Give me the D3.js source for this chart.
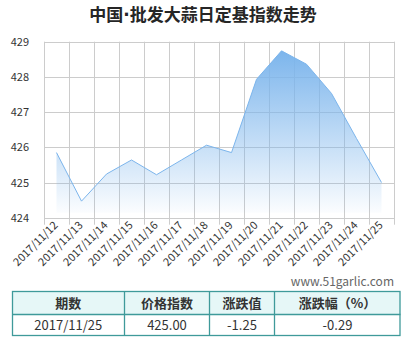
<!DOCTYPE html>
<html><head><meta charset="utf-8">
<script src="https://cdn.jsdelivr.net/npm/d3@7"></script>
<style>
html,body{margin:0;padding:0;background:#fff;}
svg{display:block;font-family:"Noto Sans CJK SC","Noto Sans",sans-serif;}
</style></head>
<body>
<svg id="c" width="414" height="338"></svg>
<script>
const titleParts = ["中国", "·", "批发大蒜日定基指数走势"];
const dates = ["2017/11/12","2017/11/13","2017/11/14","2017/11/15","2017/11/16","2017/11/17","2017/11/18","2017/11/19","2017/11/20","2017/11/21","2017/11/22","2017/11/23","2017/11/24","2017/11/25"];
const values = [425.85,424.47,425.24,425.64,425.22,425.64,426.06,425.85,427.93,428.74,428.36,427.53,426.25,425.00];
const yTicks = [424,425,426,427,428,429];
const tableHeader = ["期数","价格指数","涨跌值","涨跌幅（%）"];
const tableRow = ["2017/11/25","425.00","-1.25","-0.29"];
const watermark = "www.51garlic.com";

const svg = d3.select("#c");
const L=44, R=394, T=41.7, B=217.7;
const x = d3.scaleBand().domain(dates).range([L,R]);
const y = d3.scaleLinear().domain([424,429]).range([B,T]);
const cx = d => x(d)+x.bandwidth()/2;

const tt = svg.append("text").attr("x",203).attr("y",21).attr("text-anchor","middle")
  .attr("font-size",17).attr("font-weight","bold").attr("fill","#262626");
tt.append("tspan").text(titleParts[0]);
tt.append("tspan").attr("font-family","DejaVu Sans").text(titleParts[1]);
tt.append("tspan").text(titleParts[2]);

const defs = svg.append("defs");
const g = defs.append("linearGradient").attr("id","ag").attr("x1",0).attr("y1",0).attr("x2",0).attr("y2",1);
g.append("stop").attr("offset","0%").attr("stop-color","#7cb5ec").attr("stop-opacity",1);
g.append("stop").attr("offset","100%").attr("stop-color","#7cb5ec").attr("stop-opacity",0.03);

// grid
const grid = svg.append("g");
yTicks.forEach(t=>{
  grid.append("line").attr("x1",L).attr("x2",R).attr("y1",Math.round(y(t))+0.5).attr("y2",Math.round(y(t))+0.5)
    .attr("stroke","#cccccc").attr("stroke-width",1);
});
const bounds = dates.map(d=>x(d)).concat([R]);
bounds.forEach(b=>{
  grid.append("line").attr("x1",Math.round(b)+0.5).attr("x2",Math.round(b)+0.5).attr("y1",T).attr("y2",B+7)
    .attr("stroke","#cccccc").attr("stroke-width",1);
});

const data = dates.map((d,i)=>({d,v:values[i]}));
const area = d3.area().x(p=>cx(p.d)).y0(B-5).y1(p=>y(p.v));
svg.append("path").datum(data).attr("d",area).attr("fill","url(#ag)");
const line = d3.line().x(p=>cx(p.d)).y(p=>y(p.v));
svg.append("path").datum(data).attr("d",line).attr("fill","none").attr("stroke","#7cb5ec").attr("stroke-width",1);

// y labels
yTicks.forEach(t=>{
  svg.append("text").attr("x",29).attr("y",y(t)+4).attr("text-anchor","end")
    .attr("font-size",11).attr("fill","#333").text(t);
});
// x labels
dates.forEach(d=>{
  svg.append("text").attr("transform",`translate(${cx(d)+2},${226}) rotate(-45)`)
    .attr("text-anchor","end").attr("font-size",11).attr("fill","#333").text(d);
});

svg.append("text").attr("x",394).attr("y",286).attr("text-anchor","end")
  .attr("font-size",12).attr("fill","#666").text(watermark);

// table
const cols=[12,124.5,209.5,274.5,400.5];
const tT=291.5, tM=314.5, tB=335.5;
svg.append("rect").attr("x",cols[0]).attr("y",tT).attr("width",cols[4]-cols[0]).attr("height",tM-tT).attr("fill","#e6f7f7");
svg.append("rect").attr("x",cols[0]+0.5).attr("y",tT).attr("width",cols[4]-cols[0]-1).attr("height",tB-tT)
  .attr("fill","none").attr("stroke","#3f9a9a").attr("stroke-width",1.3);
svg.append("line").attr("x1",cols[0]).attr("x2",cols[4]).attr("y1",tM).attr("y2",tM).attr("stroke","#3f9a9a").attr("stroke-width",1.3);
cols.slice(1,4).forEach(c=>{
  svg.append("line").attr("x1",c).attr("x2",c).attr("y1",tT).attr("y2",tB).attr("stroke","#3f9a9a").attr("stroke-width",1.3);
});
tableHeader.forEach((h,i)=>{
  svg.append("text").attr("x",(cols[i]+cols[i+1])/2).attr("y",308).attr("text-anchor","middle")
    .attr("font-size",13).attr("font-weight","bold").attr("fill","#333").text(h);
});
tableRow.forEach((h,i)=>{
  svg.append("text").attr("x",(cols[i]+cols[i+1])/2).attr("y",330).attr("text-anchor","middle")
    .attr("font-size",13).attr("fill","#333").text(h);
});
</script>
</body></html>
